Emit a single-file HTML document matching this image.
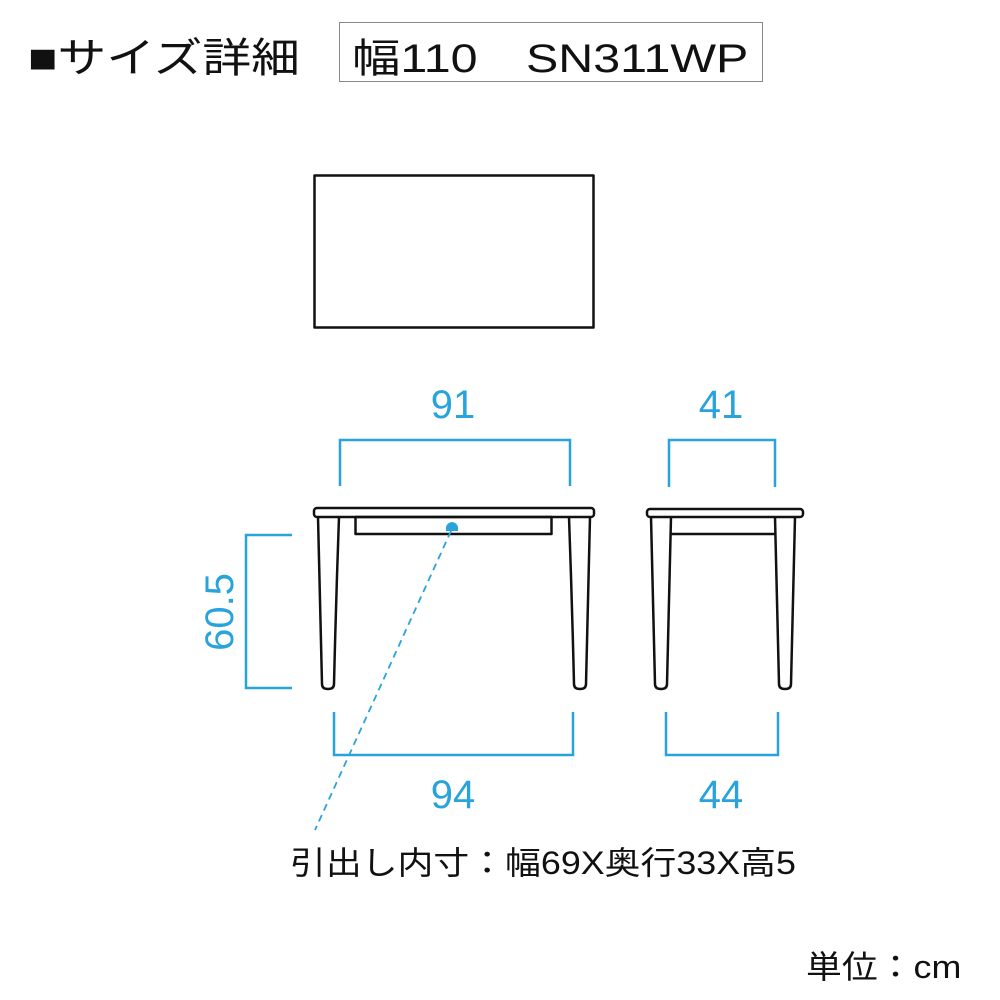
<!DOCTYPE html>
<html><head><meta charset="utf-8"><style>
body{margin:0;width:1000px;height:1000px;background:#fff;overflow:hidden;position:relative;font-family:"Liberation Sans","Noto Sans CJK JP",sans-serif}
.t{position:absolute;color:#111;white-space:nowrap;transform-origin:0 0}
</style></head><body>
<div class="t" style="left:28px;top:24px;font-size:41px;transform:scaleX(1.19)">■サイズ詳細</div>
<div style="position:absolute;left:339px;top:22px;width:424px;height:60px;border:1.5px solid #888;box-sizing:border-box"></div>
<div class="t" style="left:352px;top:26px;font-size:40px;transform:scaleX(1.21)">幅110　SN311WP</div>
<svg width="1000" height="1000" style="position:absolute;left:0;top:0">
<g fill="none" stroke="#111" stroke-width="2.5" stroke-linejoin="round">
<rect x="314.5" y="175.5" width="279" height="152"/>
<rect x="314" y="508" width="280" height="9" rx="3"/>
<path d="M318 517 Q320 600 322 684 Q322 689 328 689 Q334 689 334 684 Q336 600 339 517"/>
<path d="M569 517 Q572 600 574 684 Q574 689 580 689 Q586 689 586 684 Q588 600 590 517"/>
<rect x="355.5" y="517" width="196" height="17"/>
<rect x="647" y="509" width="156" height="8" rx="3"/>
<path d="M651 517 Q653 600 655 684 Q655 689 661 689 Q667 689 667 684 Q669 600 671 517"/>
<path d="M775 517 Q777 600 779 684 Q779 689 785 689 Q791 689 791 684 Q793 600 795 517"/>
<line x1="671" y1="534" x2="775" y2="534"/>
</g>
<g fill="none" stroke="#29a3dc" stroke-width="2.5">
<path d="M340 486 V440 H570 V486"/>
<path d="M669 487 V440 H775 V487"/>
<path d="M292 535 H246 V688 H292"/>
<path d="M334 712 V755 H573 V712"/>
<path d="M666 712 V755 H778 V712"/>
<line x1="451" y1="531" x2="315" y2="830" stroke-width="1.8" stroke-dasharray="7,5"/>
</g>
<path d="M446 531 Q445 523 452 522 Q459 523 458 531 Z" fill="#29a3dc"/>
<g fill="#29a3dc" font-family="Liberation Sans,sans-serif" font-size="40" text-anchor="middle">
<text x="453" y="418">91</text>
<text x="721" y="418">41</text>
<text x="453" y="808">94</text>
<text x="721" y="808">44</text>
<text transform="translate(233,612) rotate(-90)">60.5</text>
</g>
</svg>
<div class="t" style="left:290px;top:838px;font-size:32px;transform:scaleX(1.12)">引出し内寸：幅69X奥行33X高5</div>
<div class="t" style="left:806px;top:942px;font-size:32px;transform:scaleX(1.12)">単位：cm</div>
</body></html>
